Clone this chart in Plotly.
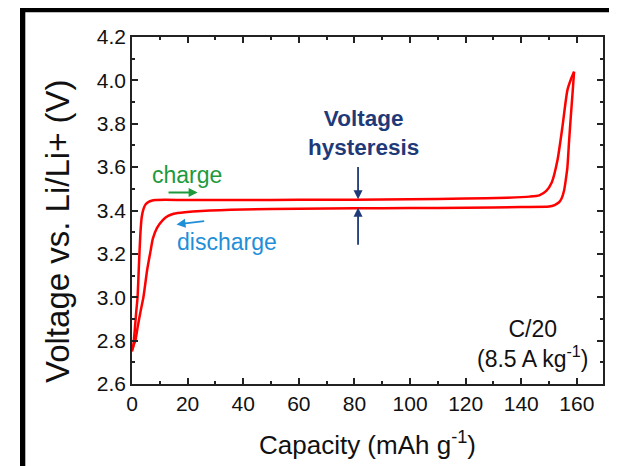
import plotly.graph_objects as go

# ---- data ----
charge_cap = [0, 0.5, 1.0, 1.5, 2.0, 2.5, 3.0, 3.5, 4.2, 5, 6, 7, 8.5, 12, 20, 40, 60,
              80, 100, 120, 135, 143, 146.5, 149, 151, 153, 154.8, 156.6, 158, 159]
charge_v = [2.75, 2.78, 2.85, 2.93, 3.0, 3.15, 3.29, 3.37, 3.41, 3.43, 3.44, 3.445, 3.448,
            3.449, 3.448, 3.448, 3.449, 3.45, 3.452, 3.455, 3.459, 3.464, 3.47, 3.49,
            3.53, 3.63, 3.785, 3.955, 4.01, 4.04]

discharge_cap = [159, 158.5, 157.8, 157.2, 156.6, 156, 155.4, 154.5, 153.6, 152, 150, 140,
                 120, 100, 80, 60, 40, 25, 19, 15, 13, 11, 9, 7.5, 6.7, 5.5, 4.1, 3, 2,
                 1.2, 0.6, 0.2]
discharge_v = [4.04, 3.95, 3.83, 3.72, 3.60, 3.54, 3.492, 3.455, 3.438, 3.425, 3.418, 3.416,
               3.413, 3.411, 3.41, 3.408, 3.405, 3.398, 3.392, 3.385, 3.375, 3.355, 3.32,
               3.27, 3.215, 3.13, 3.0, 2.93, 2.86, 2.8, 2.78, 2.76]

x_ticks = [0, 20, 40, 60, 80, 100, 120, 140, 160]
y_ticks = [2.6, 2.8, 3.0, 3.2, 3.4, 3.6, 3.8, 4.0, 4.2]
y_tick_text = ["2.6", "2.8", "3.0", "3.2", "3.4", "3.6", "3.8", "4.0", "4.2"]

# page body has an 8px margin; compensate so the picture lands where the reference is
OFF = 8
W, H = 617 - OFF, 466 - OFF
# plot-area edges in reference (window) pixels
L, R, T, B = 132, 603, 37, 384

def px_x(p):
    return (p - L) / (R - L)

def px_y(p):
    return (B - p) / (B - T)

FONT = "Liberation Sans, Arial, sans-serif"
RED = "#ff0000"
GREEN = "#1e9a3c"
BLUE = "#1f8fd8"
NAVY = "#1f3a78"

fig = go.Figure()
fig.add_trace(go.Scatter(x=charge_cap, y=charge_v, mode="lines",
                         line=dict(color=RED, width=2.5, shape="spline", smoothing=0.6),
                         showlegend=False, hoverinfo="skip"))
fig.add_trace(go.Scatter(x=discharge_cap, y=discharge_v, mode="lines",
                         line=dict(color=RED, width=2.5, shape="spline", smoothing=0.6),
                         showlegend=False, hoverinfo="skip"))

axis_common = dict(
    showgrid=False, zeroline=False, showline=True, linecolor="#222", linewidth=1.5,
    mirror="ticks", ticks="inside", ticklen=6, tickwidth=1.5, tickcolor="#222",
    tickfont=dict(family=FONT, size=21, color="#111"),
)

fig.update_xaxes(range=[0, 169.4], tickvals=x_ticks, ticktext=[str(v) for v in x_ticks],
                 minor=dict(ticks="inside", ticklen=3.5, dtick=10, tick0=0, tickwidth=1.5,
                            tickcolor="#222"),
                 title=dict(text="Capacity (mAh g<sup>-1</sup>)",
                            font=dict(family=FONT, size=26, color="#111"), standoff=22),
                 **axis_common)
fig.update_yaxes(range=[2.6, 4.2], tickvals=y_ticks, ticktext=y_tick_text,
                 minor=dict(ticks="inside", ticklen=3.5, dtick=0.1, tick0=2.6, tickwidth=1.5,
                            tickcolor="#222"),
                 **axis_common)

anns = [
    dict(x=187, y=175, text="charge", font=dict(family=FONT, size=23, color=GREEN)),
    dict(x=227, y=242, text="discharge", font=dict(family=FONT, size=23, color=BLUE)),
    dict(x=363, y=133, text="<b>Voltage<br>hysteresis</b>",
         font=dict(family=FONT, size=22.5, color=NAVY)),
    dict(x=533, y=344, text="C/20<br>(8.5 A kg<sup>-1</sup>)",
         font=dict(family=FONT, size=23, color="#111")),
]
final = []
for a in anns:
    final.append(dict(xref="paper", yref="paper", x=px_x(a["x"]), y=px_y(a["y"]),
                      xanchor="center", yanchor="middle", showarrow=False,
                      text=a["text"], font=a["font"]))

# y-axis title (placed as rotated text to match the reference position)
final.append(dict(xref="paper", yref="paper", x=px_x(57), y=px_y(231),
                  xanchor="center", yanchor="middle", showarrow=False, textangle=-90,
                  text="Voltage vs. Li/Li+ (V)",
                  font=dict(family=FONT, size=33, color="#111")))

def arrow(x0, y0, x1, y1, color, width=1.8, size=1.0):
    # tail (x0,y0) -> head (x1,y1) in data coordinates
    return dict(x=x1, y=y1, ax=x0, ay=y0, xref="x", yref="y", axref="x", ayref="y",
                showarrow=True, arrowhead=2, arrowsize=size, arrowwidth=width,
                arrowcolor=color, text="")

final.append(arrow(12.6, 3.483, 23.6, 3.483, GREEN))
final.append(arrow(26.5, 3.352, 16.0, 3.336, BLUE))
final.append(arrow(81.3, 3.608, 81.3, 3.452, NAVY))
final.append(arrow(81.3, 3.235, 81.3, 3.413, NAVY))

shapes = [
    # black frame (left and top edges)
    dict(type="rect", xref="paper", yref="paper", x0=px_x(20), x1=px_x(25.3),
         y0=px_y(470), y1=px_y(7), fillcolor="black", line=dict(width=0), layer="above"),
    dict(type="rect", xref="paper", yref="paper", x0=px_x(20), x1=px_x(620),
         y0=px_y(12.3), y1=px_y(7), fillcolor="black", line=dict(width=0), layer="above"),
]

fig.update_layout(
    width=W, height=H,
    margin=dict(l=L - OFF, r=(617 - R), t=T - OFF, b=(466 - B), pad=0),
    paper_bgcolor="white", plot_bgcolor="white",
    annotations=final, shapes=shapes,
    font=dict(family=FONT),
)

fig.write_html("out.html")
